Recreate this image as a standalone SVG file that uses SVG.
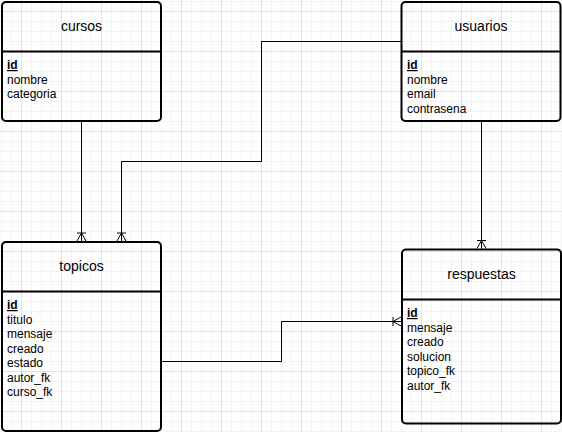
<svg xmlns="http://www.w3.org/2000/svg" width="562" height="432" viewBox="0 0 562 432">
<style>
.ent{fill:none;stroke:#000;stroke-width:2}
.div{stroke:#000;stroke-width:2}
.title{font-family:"Liberation Sans",Arial,sans-serif;font-size:14px;fill:#000;text-anchor:middle}
.fld{font-family:"Liberation Sans",Arial,sans-serif;font-size:12px;fill:#000}
.pk{font-weight:bold;text-decoration:underline}
.conn{fill:none;stroke:#000;stroke-width:1}
</style>
<defs>
<pattern id="grid" x="1" y="1" width="40" height="40" patternUnits="userSpaceOnUse">
<path d="M0.5,0V40M10.5,0V40M30.5,0V40M0,0.5H40M0,20.5H40M0,30.5H40" stroke="#f3f3f3" stroke-width="1" fill="none"/>
<path d="M20.5,0V40M0,10.5H40" stroke="#e2e2e2" stroke-width="1" fill="none"/>
</pattern>
<marker id="many" markerWidth="12" markerHeight="12" refX="10" refY="6" orient="auto" markerUnits="userSpaceOnUse" overflow="visible">
<path d="M2,1.5L2,10.5M2,6L10,1.5M2,6L10,10.5M2,6L10,6" fill="none" stroke="#000" stroke-width="1"/>
</marker>
</defs>
<rect x="0" y="0" width="562" height="432" fill="#fff"/>
<rect x="0" y="0" width="562" height="432" fill="url(#grid)"/>

<g id="connectors">
<path class="conn" d="M81.5,122V241" marker-end="url(#many)"/>
<path class="conn" d="M401,41.5H261.5V161.5H121.5V241" marker-end="url(#many)"/>
<path class="conn" d="M481.5,122V248.5" marker-end="url(#many)"/>
<path class="conn" d="M162,361.5H281.5V321.5H401" marker-end="url(#many)"/>
</g>

<g id="cursos">
<rect class="ent" x="2" y="2" width="159" height="119" rx="4"/>
<line class="div" x1="2" y1="51.5" x2="161" y2="51.5"/>
<text class="title" x="81.5" y="31">cursos</text>
<text class="fld pk" x="7" y="69">id</text>
<text class="fld" x="7" y="83.5">nombre</text>
<text class="fld" x="7" y="98">categoria</text>
</g>

<g id="usuarios">
<rect class="ent" x="401.5" y="2" width="159" height="119" rx="4"/>
<line class="div" x1="401.5" y1="51.5" x2="560.5" y2="51.5"/>
<text class="title" x="481" y="31">usuarios</text>
<text class="fld pk" x="407" y="69">id</text>
<text class="fld" x="407" y="83.5">nombre</text>
<text class="fld" x="407" y="98">email</text>
<text class="fld" x="407" y="112.5">contrasena</text>
</g>

<g id="topicos">
<rect class="ent" x="2" y="242" width="159" height="189" rx="4"/>
<line class="div" x1="2" y1="291.5" x2="161" y2="291.5"/>
<text class="title" x="81.5" y="271">topicos</text>
<text class="fld pk" x="7" y="309">id</text>
<text class="fld" x="7" y="323.5">titulo</text>
<text class="fld" x="7" y="338">mensaje</text>
<text class="fld" x="7" y="352.5">creado</text>
<text class="fld" x="7" y="367">estado</text>
<text class="fld" x="7" y="381.5">autor_fk</text>
<text class="fld" x="7" y="396">curso_fk</text>
</g>

<g id="respuestas">
<rect class="ent" x="402" y="249.5" width="159" height="174" rx="4"/>
<line class="div" x1="402" y1="299.5" x2="561" y2="299.5"/>
<text class="title" x="481.5" y="279">respuestas</text>
<text class="fld pk" x="407" y="317">id</text>
<text class="fld" x="407" y="331.5">mensaje</text>
<text class="fld" x="407" y="346">creado</text>
<text class="fld" x="407" y="360.5">solucion</text>
<text class="fld" x="407" y="375">topico_fk</text>
<text class="fld" x="407" y="389.5">autor_fk</text>
</g>
</svg>
